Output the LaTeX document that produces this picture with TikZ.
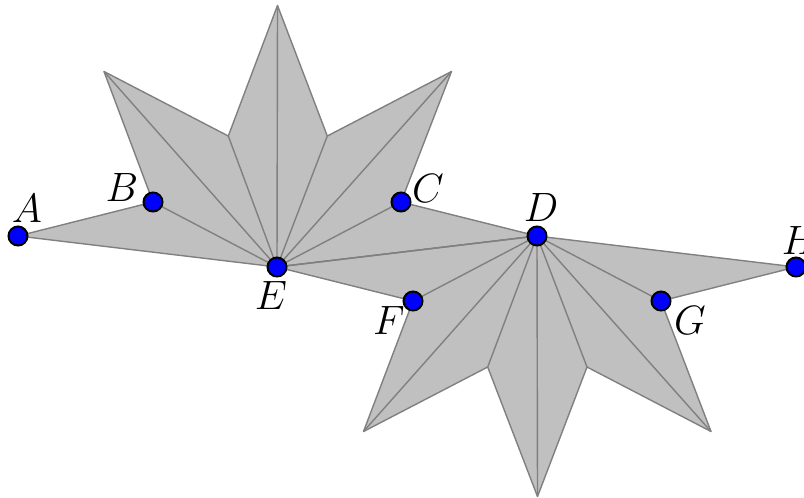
\RequirePackage{fix-cm}
\documentclass[tikz,border=0pt]{standalone}
\begin{document}
\begin{tikzpicture}[x=1pt,y=-1pt,
  poly/.style={fill={rgb,255:red,192;green,192;blue,192},draw={rgb,255:red,128;green,128;blue,128},line width=1.4pt,line join=round},
  spoke/.style={draw={rgb,255:red,128;green,128;blue,128},line width=1.4pt},
  dot/.style={circle,fill=blue,draw=black,line width=2pt,minimum size=19pt,inner sep=0pt},
  lab/.style={inner sep=0pt,font=\fontsize{41}{41}\selectfont}]
\useasboundingbox (0,0) rectangle (804,498);
\coordinate (A) at (18,236);
\coordinate (B) at (153,202);
\coordinate (C) at (401,202);
\coordinate (D) at (537,236);
\coordinate (E) at (277,267);
\coordinate (F) at (413,301);
\coordinate (G) at (661,301);
\coordinate (H) at (796,267);
\coordinate (P1) at (104,71.5);
\coordinate (P2) at (228.3,136);
\coordinate (P3) at (277.5,5.5);
\coordinate (P4) at (327.3,136);
\coordinate (P5) at (451.5,71.5);
\coordinate (Q1) at (363.5,431.5);
\coordinate (Q2) at (487.7,367);
\coordinate (Q3) at (537.5,496.5);
\coordinate (Q4) at (587,367);
\coordinate (Q5) at (711,431.5);
\path[poly] (A) -- (B) -- (P1) -- (P2) -- (P3) -- (P4) -- (P5) -- (C) -- (D) -- (E) -- cycle;
\path[poly] (E) -- (F) -- (Q1) -- (Q2) -- (Q3) -- (Q4) -- (Q5) -- (G) -- (H) -- (D) -- cycle;
\foreach \p in {B,P1,P2,P3,P4,P5,C,D} \draw[spoke] (E) -- (\p);
\foreach \p in {F,Q1,Q2,Q3,Q4,Q5,G} \draw[spoke] (D) -- (\p);
\foreach \p in {A,B,C,D,E,F,G,H} \node[dot] (d\p) at (\p) {};
\node[lab] (lA) at (27,208) {$A$};
\node[lab] (lB) at (122,187) {$B$};
\node[lab] (lC) at (428,188) {$C$};
\node[lab] (lD) at (541,207) {$D$};
\node[lab] (lE) at (271,295) {$E$};
\node[lab] (lF) at (389,320) {$F$};
\node[lab] (lG) at (690,320) {$G$};
\node[lab] (lH) at (800,240) {$H$};
\end{tikzpicture}
\end{document}
